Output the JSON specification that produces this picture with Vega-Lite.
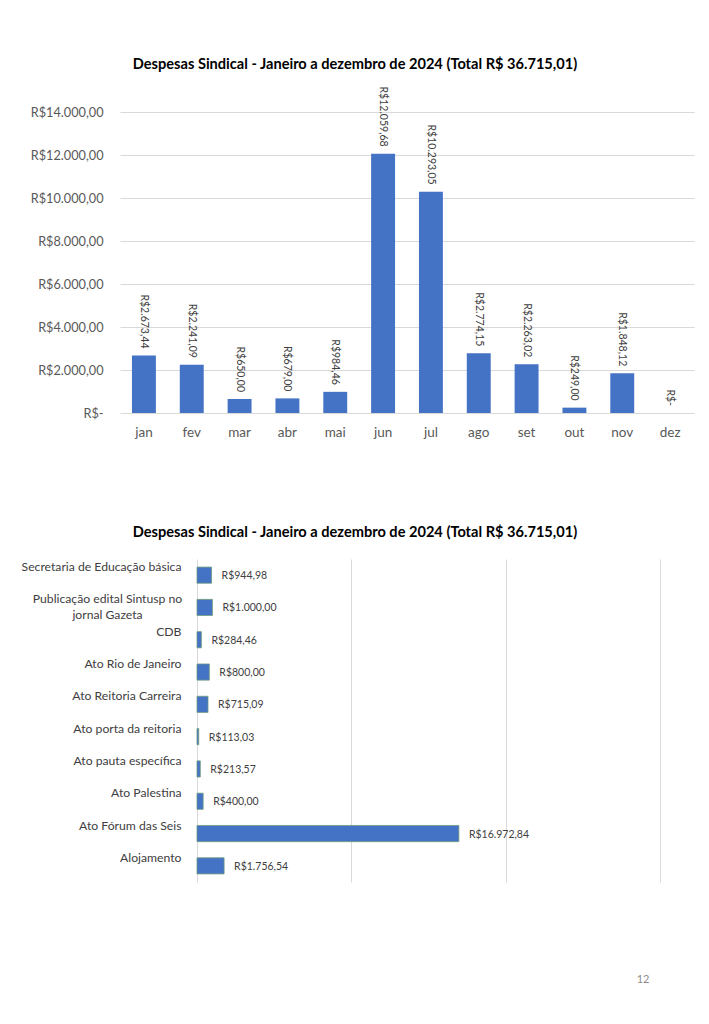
{
  "$schema": "https://vega.github.io/schema/vega-lite/v6.json",
  "padding": {"left": 21, "top": 56, "right": 5, "bottom": 5},
  "spacing": 86,
  "config": {
    "locale": {"number": {"decimal": ",", "thousands": ".", "grouping": [3], "currency": ["R$", ""]}},
    "view": {"stroke": null},
    "font": "Lato",
    "title": {"font": "Lato", "fontSize": 14.6, "fontWeight": "bold", "color": "#000000", "baseline": "bottom"},
    "axis": {"labelFont": "Lato", "labelColor": "#595959", "gridColor": "#d9d9d9", "gridWidth": 1, "domain": false, "ticks": false, "tickSize": 0, "title": null}
  },
  "vconcat": [
    {
      "title": {"text": "Despesas Sindical - Janeiro a dezembro de 2024 (Total R$ 36.715,01)", "dx": -52, "offset": 15, "frame": "group", "anchor": "middle"},
      "width": 574,
      "height": 301,
      "data": {"values": [
        {"mes": "jan", "valor": 2673.44},
        {"mes": "fev", "valor": 2241.09},
        {"mes": "mar", "valor": 650.00},
        {"mes": "abr", "valor": 679.00},
        {"mes": "mai", "valor": 984.46},
        {"mes": "jun", "valor": 12059.68},
        {"mes": "jul", "valor": 10293.05},
        {"mes": "ago", "valor": 2774.15},
        {"mes": "set", "valor": 2263.02},
        {"mes": "out", "valor": 249.00},
        {"mes": "nov", "valor": 1848.12},
        {"mes": "dez", "valor": 0}
      ]},
      "encoding": {
        "x": {"field": "mes", "type": "nominal", "sort": null, "title": null,
              "scale": {"paddingInner": 0.5, "paddingOuter": 0.25},
              "axis": {"labelAngle": 0, "labelFontSize": 13.5, "labelPadding": 12, "grid": false}},
        "y": {"field": "valor", "type": "quantitative", "title": null,
              "scale": {"domain": [0, 14000], "nice": false},
              "axis": {"values": [0, 2000, 4000, 6000, 8000, 10000, 12000, 14000], "format": "$,.2f",
                       "labelExpr": "datum.value === 0 ? 'R$-' : datum.label",
                       "labelFontSize": 12.7, "labelPadding": 17, "grid": true}}
      },
      "layer": [
        {"mark": {"type": "bar", "color": "#4472C4"}},
        {"mark": {"type": "text", "angle": 90, "align": "right", "baseline": "middle", "dx": -7, "fontSize": 10.5, "color": "#404040"},
         "encoding": {"text": {"condition": {"test": "datum.valor === 0", "value": "R$-"}, "field": "valor", "type": "quantitative", "format": "$,.2f"}}}
      ]
    },
    {
      "title": {"text": "Despesas Sindical - Janeiro a dezembro de 2024 (Total R$ 36.715,01)", "dx": -52, "offset": 19, "frame": "group", "anchor": "middle"},
      "width": 574,
      "height": 323,
      "data": {"values": [
        {"item": "Secretaria de Educação básica", "valor": 944.98},
        {"item": "Publicação edital Sintusp no jornal Gazeta", "valor": 1000.00},
        {"item": "CDB", "valor": 284.46},
        {"item": "Ato Rio de Janeiro", "valor": 800.00},
        {"item": "Ato Reitoria Carreira", "valor": 715.09},
        {"item": "Ato porta da reitoria", "valor": 113.03},
        {"item": "Ato pauta específica", "valor": 213.57},
        {"item": "Ato Palestina", "valor": 400.00},
        {"item": "Ato Fórum das Seis", "valor": 16972.84},
        {"item": "Alojamento", "valor": 1756.54}
      ]},
      "encoding": {
        "y": {"field": "item", "type": "nominal", "sort": null, "title": null,
              "scale": {"paddingInner": 0.5, "paddingOuter": 0.25},
              "axis": {"offset": -77, "labelFontSize": 12.2, "labelColor": "#404040",
                       "labelPadding": {"condition": {"test": "datum.value === 'Publicação edital Sintusp no jornal Gazeta'", "value": 90}, "value": 16},
                       "labelAlign": {"condition": {"test": "datum.value === 'Publicação edital Sintusp no jornal Gazeta'", "value": "center"}, "value": "right"},
                       "labelBaseline": "top", "labelOffset": -14, "labelLimit": 300, "labelLineHeight": 16,
                       "labelExpr": "datum.label === 'Publicação edital Sintusp no jornal Gazeta' ? ['Publicação edital Sintusp no', 'jornal Gazeta'] : datum.label"}},
        "x": {"field": "valor", "type": "quantitative",
              "scale": {"domain": [-4990, 32210], "nice": false, "zero": false},
              "axis": {"values": [0, 10000, 20000, 30000], "grid": true, "labels": false,
                       "title": "12", "titleFont": "Lato", "titleFontSize": 11, "titleFontWeight": "normal", "titleColor": "#8c8c8c",
                       "titleX": 529, "titleY": 97, "titleAlign": "right", "titleBaseline": "middle", "titleAnchor": null}},
        "x2": {"datum": 0}
      },
      "layer": [
        {"mark": {"type": "bar", "color": "#4472C4", "stroke": "#6f9c7c", "strokeWidth": 0.8}},
        {"mark": {"type": "text", "align": "left", "baseline": "middle", "dx": 10, "dy": 1, "fontSize": 10.5, "color": "#404040"},
         "encoding": {"x2": null, "text": {"field": "valor", "type": "quantitative", "format": "$,.2f"}}}
      ]
    }
  ]
}
